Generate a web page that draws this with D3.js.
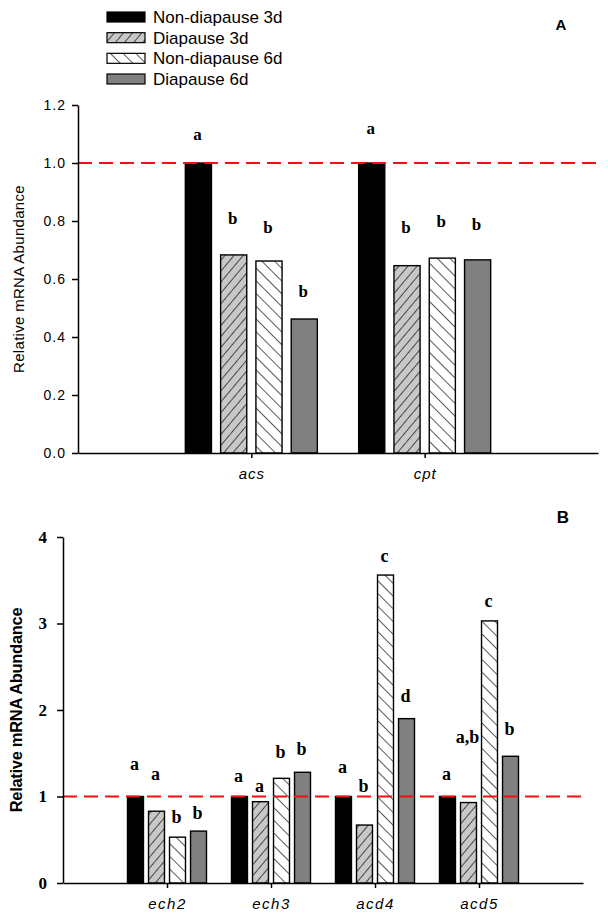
<!DOCTYPE html>
<html>
<head>
<meta charset="utf-8">
<script src="https://cdn.jsdelivr.net/npm/d3@7/dist/d3.min.js"></script>
<style>
  html, body { margin: 0; padding: 0; background: #fff; }
  svg { display: block; }
</style>
</head>
<body>
<svg id="chart" width="608" height="920"></svg>
<script>
// ---------- DATA ----------
const series = ["Non-diapause 3d", "Diapause 3d", "Non-diapause 6d", "Diapause 6d"];

const genesA = ["acs", "cpt"];
const valuesA = [
  [1.00, 0.683, 0.662, 0.462],   // acs
  [1.00, 0.646, 0.672, 0.666]    // cpt
];
const lettersA = [
  ["a", "b", "b", "b"],
  ["a", "b", "b", "b"]
];
const letterHeightA = [
  [1.10, 0.81, 0.78, 0.56],
  [1.12, 0.78, 0.80, 0.79]
];
const ticksA = [0, 0.2, 0.4, 0.6, 0.8, 1.0, 1.2];

const genesB = ["ech2", "ech3", "acd4", "acd5"];
const valuesB = [
  [1.00, 0.83, 0.53, 0.60],   // ech2
  [1.00, 0.94, 1.21, 1.28],   // ech3
  [1.00, 0.67, 3.56, 1.90],   // acd4
  [1.00, 0.93, 3.03, 1.465]   // acd5
];
const lettersB = [
  ["a", "a", "b", "b"],
  ["a", "a", "b", "b"],
  ["a", "b", "c", "d"],
  ["a", "a,b", "c", "b"]
];
const letterHeightB = [
  [1.38, 1.26, 0.77, 0.81],
  [1.24, 1.13, 1.52, 1.55],
  [1.34, 1.13, 3.78, 2.16],
  [1.26, 1.69, 3.26, 1.78]
];
const ticksB = [0, 1, 2, 3, 4];
const referenceLevel = 1.0;

// ---------- DRAW ----------
const svg = d3.select("#chart");
const defs = svg.append("defs");

function hatch(id, size, angle, bg) {
  const p = defs.append("pattern")
    .attr("id", id)
    .attr("patternUnits", "userSpaceOnUse")
    .attr("width", size).attr("height", size)
    .attr("patternTransform", `rotate(${angle})`);
  p.append("rect").attr("width", size).attr("height", size).attr("fill", bg);
  p.append("line").attr("x1", 0).attr("y1", 0).attr("x2", 0).attr("y2", size)
    .attr("stroke", "#000").attr("stroke-width", 1.3);
}
hatch("hatchFwd", 7, 40, "#c8c8c8");
hatch("hatchBack", 9, -45, "#ffffff");

const fills = ["#000000", "url(#hatchFwd)", "url(#hatchBack)", "#808080"];
const color = d3.scaleOrdinal().domain(series).range(fills);

// Legend
const legend = svg.append("g").attr("class", "legend");
const legendY = d3.scalePoint().domain(series).range([17, 79]);
series.forEach(s => {
  const g = legend.append("g").attr("transform", `translate(0,${legendY(s)})`);
  g.append("rect").attr("x", 107).attr("y", -5).attr("width", 38).attr("height", 10)
    .attr("fill", color(s)).attr("stroke", "#000").attr("stroke-width", 1.2);
  g.append("text").attr("x", 153).attr("y", 0).attr("dy", "0.36em")
    .attr("font-family", "Liberation Sans, Arial, sans-serif")
    .attr("font-size", 17).text(s);
});

function panel(opts) {
  const { genes, values, letters, letterH, ticks, yDomain, yRange, xRange,
          groupHalf, padInner, panelLabel, labelPos, yTitle, bold, letterSize } = opts;
  const g = svg.append("g");
  const y = d3.scaleLinear().domain(yDomain).range(yRange);
  const x = d3.scaleLinear().domain([0, genes.length + 1]).range(xRange);
  const inner = d3.scaleBand().domain(series).range([-groupHalf, groupHalf])
    .paddingInner(padInner).paddingOuter(0);

  // bars
  genes.forEach((gene, gi) => {
    const cx = x(gi + 1);
    series.forEach((s, si) => {
      const v = values[gi][si];
      g.append("rect")
        .attr("x", cx + inner(s))
        .attr("y", y(v))
        .attr("width", inner.bandwidth())
        .attr("height", y(0) - y(v))
        .attr("fill", color(s))
        .attr("stroke", "#000").attr("stroke-width", 1.4);
      g.append("text")
        .attr("x", cx + inner(s) + inner.bandwidth() / 2 - 1)
        .attr("y", y(letterH[gi][si]))
        .attr("dy", "0.35em")
        .attr("text-anchor", "middle")
        .attr("font-family", "Liberation Serif, Times New Roman, serif")
        .attr("font-weight", "bold")
        .attr("font-size", letterSize)
        .text(letters[gi][si]);
    });
  });

  // reference line
  g.append("line")
    .attr("x1", xRange[0]).attr("x2", xRange[1])
    .attr("y1", y(referenceLevel)).attr("y2", y(referenceLevel))
    .attr("stroke", "#ee1111").attr("stroke-width", 2)
    .attr("stroke-dasharray", "14,7");

  // y axis
  const yAxis = d3.axisLeft(y).tickValues(ticks).tickSize(6).tickSizeOuter(0).tickPadding(opts.yPad)
    .tickFormat(opts.yFormat);
  const ya = g.append("g").attr("transform", `translate(${xRange[0]},0)`).call(yAxis);
  ya.select(".domain").attr("stroke-width", 1.5);
  ya.selectAll(".tick line").attr("stroke-width", 1.5);
  ya.selectAll(".tick text")
    .attr("font-family", opts.yFont)
    .attr("font-weight", bold ? "bold" : "normal")
    .attr("font-size", opts.yFontSize)
    .attr("letter-spacing", opts.yLetterSpacing)
    .attr("fill", "#000");

  // x axis
  const xAxis = d3.axisBottom(x).tickValues(genes.map((d, i) => i + 1))
    .tickFormat((d) => genes[d - 1]).tickSize(5).tickSizeOuter(0).tickPadding(opts.xPad);
  const xa = g.append("g").attr("transform", `translate(0,${yRange[0]})`).call(xAxis);
  xa.select(".domain").attr("stroke-width", 1.5);
  xa.selectAll(".tick line").attr("stroke-width", 1.5);
  xa.selectAll(".tick text")
    .attr("font-family", "Liberation Sans, Arial, sans-serif")
    .attr("font-style", "italic")
    .attr("font-size", 15)
    .attr("letter-spacing", opts.xLetterSpacing)
    .attr("fill", "#000");

  // y title
  g.append("text")
    .attr("transform", `translate(${opts.yTitleX},${(yRange[0] + yRange[1]) / 2}) rotate(-90)`)
    .attr("text-anchor", "middle")
    .attr("dy", "0.35em")
    .attr("font-family", "Liberation Sans, Arial, sans-serif")
    .attr("font-weight", bold ? "bold" : "normal")
    .attr("font-size", opts.yTitleSize)
    .attr("letter-spacing", opts.yTitleSpacing)
    .text(yTitle);

  // panel label
  g.append("text")
    .attr("x", labelPos[0]).attr("y", labelPos[1]).attr("dy", "0.35em")
    .attr("text-anchor", "middle")
    .attr("font-family", "Liberation Sans, Arial, sans-serif")
    .attr("font-weight", "bold")
    .attr("font-size", opts.panelLabelSize)
    .text(panelLabel);
}

panel({
  genes: genesA, values: valuesA, letters: lettersA, letterH: letterHeightA, ticks: ticksA,
  yDomain: [0, 1.2], yRange: [453, 105], xRange: [78, 598],
  groupHalf: 66, padInner: 0.26, panelLabel: "A", labelPos: [561, 25], panelLabelSize: 15,
  yTitle: "Relative mRNA Abundance", bold: false, letterSize: 17,
  yFormat: d3.format(".1f"), yFont: "Liberation Sans, Arial, sans-serif", yFontSize: 14,
  yLetterSpacing: 1, yPad: 6, xPad: 10, xLetterSpacing: 1,
  yTitleX: 19, yTitleSize: 15, yTitleSpacing: 0.3
});

panel({
  genes: genesB, values: valuesB, letters: lettersB, letterH: letterHeightB, ticks: ticksB,
  yDomain: [0, 4], yRange: [883, 537], xRange: [63, 583],
  groupHalf: 39.5, padInner: 0.24, panelLabel: "B", labelPos: [563, 517], panelLabelSize: 17,
  yTitle: "Relative mRNA Abundance", bold: true, letterSize: 18,
  yFormat: d3.format("d"), yFont: "Liberation Serif, Times New Roman, serif", yFontSize: 17,
  yLetterSpacing: 0, yPad: 10, xPad: 10, xLetterSpacing: 1.5,
  yTitleX: 16, yTitleSize: 16.5, yTitleSpacing: -0.3
});
</script>
</body>
</html>
